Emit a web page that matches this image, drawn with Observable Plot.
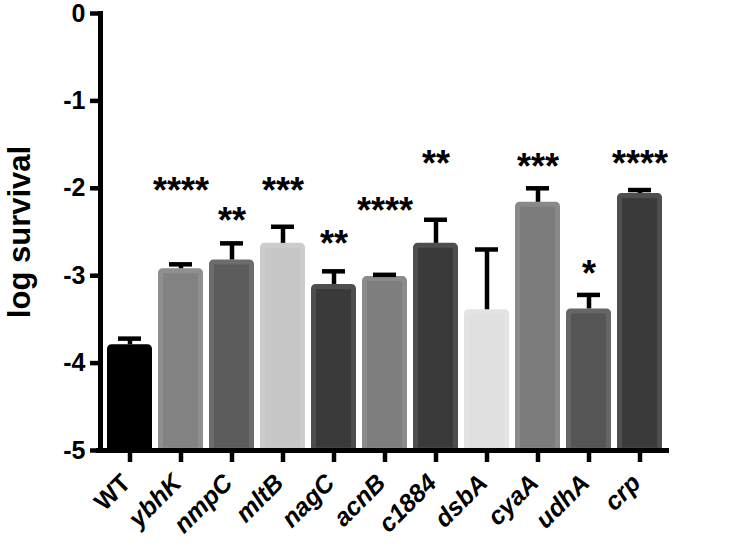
<!DOCTYPE html>
<html>
<head>
<meta charset="utf-8">
<script src="https://cdn.jsdelivr.net/npm/d3@7"></script>
<script src="https://cdn.jsdelivr.net/npm/@observablehq/plot@0.6"></script>
<style>
  body { margin: 0; background: #fff; }
  svg { font-family: Arial, "Liberation Sans", sans-serif; }
</style>
</head>
<body>
<div id="chart"></div>
<script>
const genes = ["WT", "ybhK", "nmpC", "mltB", "nagC", "acnB", "c1884", "dsbA", "cyaA", "udhA", "crp"];
const means = [-3.79, -2.92, -2.82, -2.63, -3.10, -3.01, -2.63, -3.39, -2.16, -3.38, -2.06];
const errs  = [0.07, 0.05, 0.19, 0.19, 0.15, 0.02, 0.27, 0.69, 0.16, 0.16, 0.04];
const stars = ["", "****", "**", "***", "**", "****", "**", "", "***", "*", "****"];
const starY = [null, -1.93, -2.28, -1.93, -2.54, -2.16, -1.62, null, -1.66, -2.88, -1.62];
const fills = ["#000000", "#828282", "#5c5c5c", "#c6c6c6", "#3a3a3a", "#7e7e7e", "#3a3a3a", "#e0e0e0", "#7c7c7c", "#555555", "#3a3a3a"];
const yTicks = [0, -1, -2, -3, -4, -5];

const data = genes.map((g, i) => ({gene: g, mean: means[i], err: errs[i], top: means[i] + errs[i], star: stars[i], sy: starY[i]}));
const strokes = fills.map(c => c === "#000000" ? "#000000" : d3.interpolateRgb(c, "#ffffff")(0.1));

const chart = Plot.plot({
  width: 750,
  height: 559,
  marginLeft: 100,
  marginRight: 81,
  marginTop: 13,
  marginBottom: 109,
  style: {fontFamily: "Arial, 'Liberation Sans', sans-serif", color: "#000", overflow: "visible"},
  x: {domain: genes, paddingInner: 0.12, paddingOuter: 0.06, label: null},
  y: {domain: [-5, 0], label: null},
  color: {domain: genes, range: fills},
  marks: [
    Plot.barY(data, {x: "gene", y1: -5, y2: "mean", fill: "gene", stroke: (d, i) => strokes[i], strokeWidth: 5, insetTop: 2.5, insetLeft: 2.5, insetRight: 2.5, rx: 2}),
    Plot.ruleX(data, {x: "gene", y1: "mean", y2: "top", strokeWidth: 4.5, stroke: "#000"}),
    Plot.tickY(data, {x: "gene", y: "top", strokeWidth: 4.5, stroke: "#000", insetLeft: 11, insetRight: 11}),
    Plot.text(data.filter(d => d.star), {x: "gene", y: "sy", text: "star", fontSize: 36, fontWeight: "bold", dy: 9, fill: "#000"}),
    Plot.axisY({ticks: yTicks, tickFormat: d => String(d), tickSize: 10, tickPadding: 5, strokeWidth: 4.5, fontSize: 25, fontWeight: "bold", label: null}),
    Plot.axisX({tickSize: 12, strokeWidth: 4.5, tickFormat: () => "", label: null}),
    Plot.ruleY([-5], {strokeWidth: 5, stroke: "#000", insetLeft: -4}),
    Plot.frame({anchor: "left", strokeWidth: 5, stroke: "#000"}),
    Plot.text(genes.filter(g => g === "WT"), {x: d => d, frameAnchor: "bottom", text: d => d, rotate: -45, textAnchor: "end", fontSize: 25, fontWeight: "bold", dx: 2, dy: 34, fill: "#000"}),
    Plot.text(genes.filter(g => g !== "WT"), {x: d => d, frameAnchor: "bottom", text: d => d, rotate: -45, textAnchor: "end", fontSize: 25, fontWeight: "bold", fontStyle: "italic", dx: 2, dy: 34, fill: "#000"}),
    Plot.text(["log survival"], {frameAnchor: "left", text: d => d, rotate: -90, textAnchor: "middle", dx: -80, fontSize: 31, fontWeight: "bold", fill: "#000"})
  ]
});
document.getElementById("chart").appendChild(chart);
</script>
</body>
</html>
